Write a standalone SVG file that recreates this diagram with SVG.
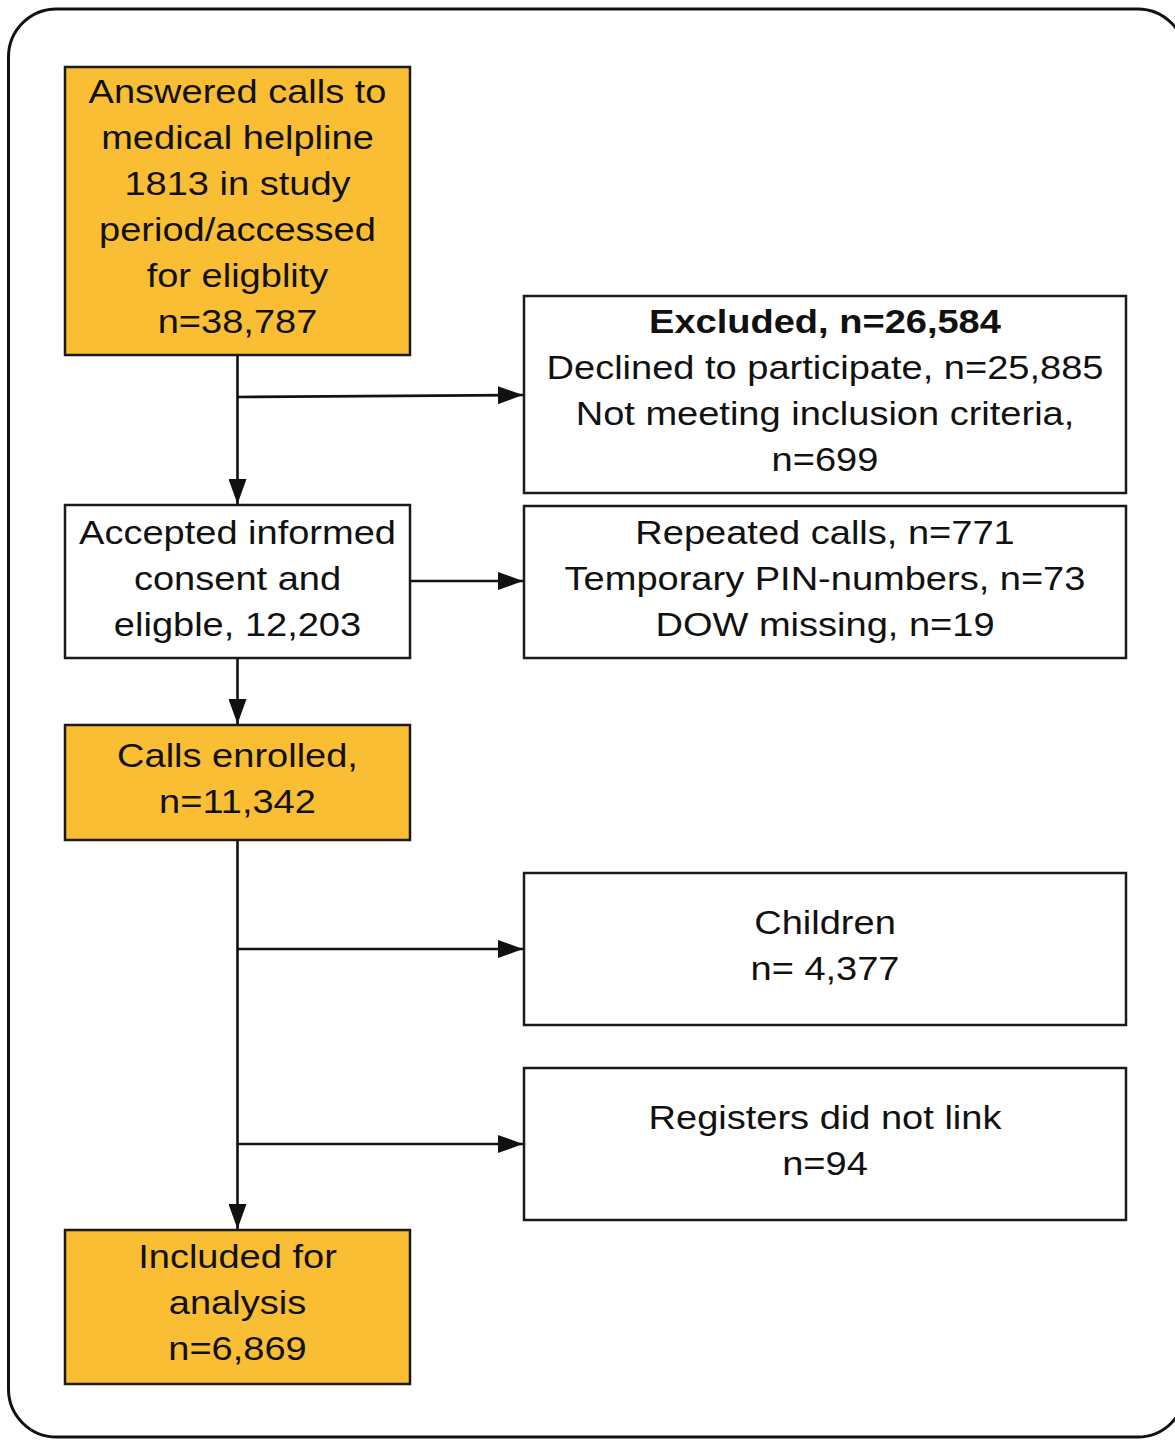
<svg xmlns="http://www.w3.org/2000/svg" width="1175" height="1440" viewBox="0 0 1175 1440">
  <style>
    .box { stroke: #1a1a1a; stroke-width: 2.5; }
    .orange { fill: #F9BE34; }
    .white { fill: #ffffff; }
    .lbl { font-family: "Liberation Sans", Arial, sans-serif; font-size: 32.5px; fill: #111; text-anchor: middle; }
    .bold { font-weight: bold; }
    .conn { stroke: #111; stroke-width: 2.6; fill: none; }
  </style>
  <defs>
    <marker id="arrow" viewBox="0 0 25 18" refX="25" refY="9" markerWidth="25" markerHeight="18" markerUnits="userSpaceOnUse" orient="auto">
      <path d="M0,0 L25,9 L0,18 Z" fill="#111"/>
    </marker>
  </defs>
  <rect width="1175" height="1440" fill="#ffffff"/>
  <rect id="frame" x="8.5" y="9" width="1177" height="1428" rx="48" ry="48" fill="none" stroke="#111" stroke-width="3"/>

  <g id="connectors">
    <line class="conn" x1="237.5" y1="355" x2="237.5" y2="504" marker-end="url(#arrow)"/>
    <line class="conn" x1="237.5" y1="397" x2="523" y2="395" marker-end="url(#arrow)"/>
    <line class="conn" x1="410" y1="581" x2="523" y2="581" marker-end="url(#arrow)"/>
    <line class="conn" x1="237.5" y1="658" x2="237.5" y2="724" marker-end="url(#arrow)"/>
    <line class="conn" x1="237.5" y1="840" x2="237.5" y2="1229" marker-end="url(#arrow)"/>
    <line class="conn" x1="237.5" y1="949" x2="523" y2="949" marker-end="url(#arrow)"/>
    <line class="conn" x1="237.5" y1="1144" x2="523" y2="1144" marker-end="url(#arrow)"/>
  </g>

  <g id="answered">
    <rect class="box orange" x="65" y="67" width="345" height="288"/>
    <text class="lbl" transform="translate(237.5 103) scale(1.17 1)" x="0" y="0">Answered calls to</text>
    <text class="lbl" transform="translate(237.5 149) scale(1.17 1)" x="0" y="0">medical helpline</text>
    <text class="lbl" transform="translate(237.5 195) scale(1.17 1)" x="0" y="0">1813 in study</text>
    <text class="lbl" transform="translate(237.5 241) scale(1.17 1)" x="0" y="0">period/accessed</text>
    <text class="lbl" transform="translate(237.5 287) scale(1.17 1)" x="0" y="0">for eligblity</text>
    <text class="lbl" transform="translate(237.5 333) scale(1.17 1)" x="0" y="0">n=38,787</text>
  </g>

  <g id="excluded">
    <rect class="box white" x="524" y="296" width="602" height="197"/>
    <text class="lbl bold" transform="translate(825 333) scale(1.17 1)" x="0" y="0">Excluded, n=26,584</text>
    <text class="lbl" transform="translate(825 379) scale(1.17 1)" x="0" y="0">Declined to participate, n=25,885</text>
    <text class="lbl" transform="translate(825 425) scale(1.17 1)" x="0" y="0">Not meeting inclusion criteria,</text>
    <text class="lbl" transform="translate(825 471) scale(1.17 1)" x="0" y="0">n=699</text>
  </g>

  <g id="accepted">
    <rect class="box white" x="65" y="505" width="345" height="153"/>
    <text class="lbl" transform="translate(237.5 544) scale(1.17 1)" x="0" y="0">Accepted informed</text>
    <text class="lbl" transform="translate(237.5 590) scale(1.17 1)" x="0" y="0">consent and</text>
    <text class="lbl" transform="translate(237.5 636) scale(1.17 1)" x="0" y="0">eligble, 12,203</text>
  </g>

  <g id="repeated">
    <rect class="box white" x="524" y="506" width="602" height="152"/>
    <text class="lbl" transform="translate(825 544) scale(1.17 1)" x="0" y="0">Repeated calls, n=771</text>
    <text class="lbl" transform="translate(825 590) scale(1.17 1)" x="0" y="0">Temporary PIN-numbers, n=73</text>
    <text class="lbl" transform="translate(825 636) scale(1.17 1)" x="0" y="0">DOW missing, n=19</text>
  </g>

  <g id="enrolled">
    <rect class="box orange" x="65" y="725" width="345" height="115"/>
    <text class="lbl" transform="translate(237.5 767) scale(1.17 1)" x="0" y="0">Calls enrolled,</text>
    <text class="lbl" transform="translate(237.5 813) scale(1.17 1)" x="0" y="0">n=11,342</text>
  </g>

  <g id="children">
    <rect class="box white" x="524" y="873" width="602" height="152"/>
    <text class="lbl" transform="translate(825 934) scale(1.17 1)" x="0" y="0">Children</text>
    <text class="lbl" transform="translate(825 980) scale(1.17 1)" x="0" y="0">n= 4,377</text>
  </g>

  <g id="registers">
    <rect class="box white" x="524" y="1068" width="602" height="152"/>
    <text class="lbl" transform="translate(825 1129) scale(1.17 1)" x="0" y="0">Registers did not link</text>
    <text class="lbl" transform="translate(825 1175) scale(1.17 1)" x="0" y="0">n=94</text>
  </g>

  <g id="included">
    <rect class="box orange" x="65" y="1230" width="345" height="154"/>
    <text class="lbl" transform="translate(237.5 1268) scale(1.17 1)" x="0" y="0">Included for</text>
    <text class="lbl" transform="translate(237.5 1314) scale(1.17 1)" x="0" y="0">analysis</text>
    <text class="lbl" transform="translate(237.5 1360) scale(1.17 1)" x="0" y="0">n=6,869</text>
  </g>
</svg>
